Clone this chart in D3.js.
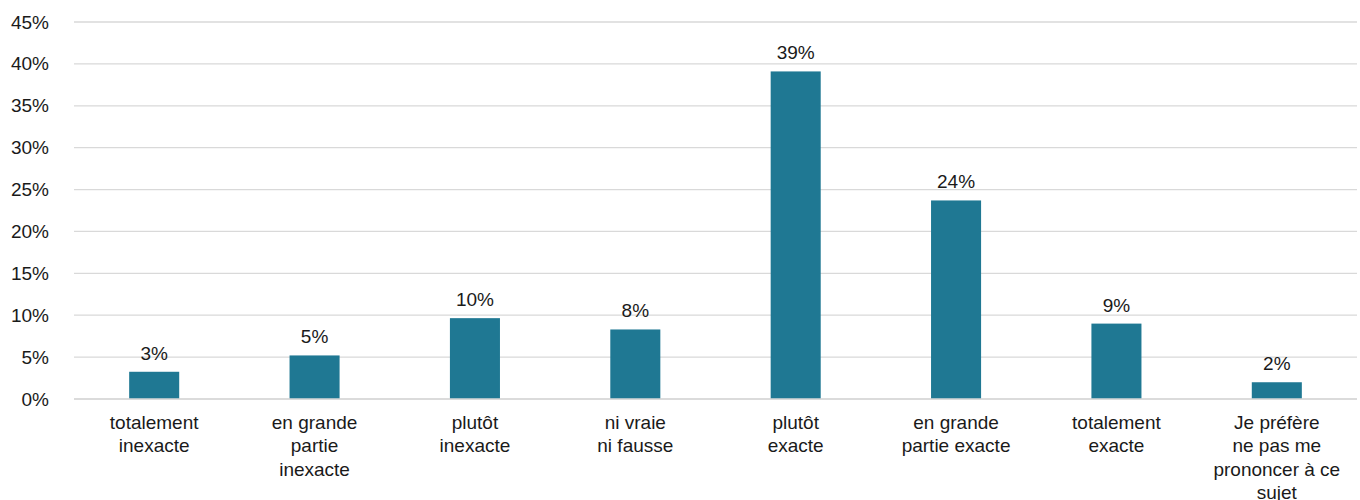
<!DOCTYPE html>
<html><head><meta charset="utf-8">
<script src="https://cdn.jsdelivr.net/npm/d3@7"></script>
<style>body{margin:0;background:#fff}svg{display:block}text{font-family:"Liberation Sans",Arial,sans-serif;fill:#1a1a1a}</style>
</head><body><svg id="c" width="1360" height="500"></svg>
<script>
const categories = [
  ["totalement","inexacte"],
  ["en grande","partie","inexacte"],
  ["plutôt","inexacte"],
  ["ni vraie","ni fausse"],
  ["plutôt","exacte"],
  ["en grande","partie exacte"],
  ["totalement","exacte"],
  ["Je préfère","ne pas me","prononcer à ce","sujet"]
];
const values = [3.25, 5.2, 9.65, 8.3, 39.1, 23.7, 9.0, 2.0];
const valueLabels = ["3%","5%","10%","8%","39%","24%","9%","2%"];
const yTicks = [0,5,10,15,20,25,30,35,40,45];

const FS = 19;
const svg = d3.select("#c");
const m = {left:74, right:1357, top:22, bottom:399};
const x = d3.scaleBand().domain(d3.range(categories.length)).range([m.left, m.right]).paddingInner(0.688).paddingOuter(0.344);
const y = d3.scaleLinear().domain([0,45]).range([m.bottom, m.top]);

const grid = svg.append("g");
grid.selectAll("line").data(yTicks).join("line")
  .attr("x1", m.left).attr("x2", m.right)
  .attr("y1", d=>y(d)).attr("y2", d=>y(d))
  .attr("stroke", "#d9d9d9").attr("stroke-width", 1.3);

const yAxis = svg.append("g").attr("transform", `translate(${m.left},0)`)
  .call(d3.axisLeft(y).tickValues(yTicks).tickFormat(d=>d+"%").tickSize(0).tickPadding(25));
yAxis.select(".domain").remove();
yAxis.selectAll("text").attr("font-size", FS).style("font-family", '"Liberation Sans",Arial,sans-serif').attr("fill","#1a1a1a");

svg.append("g").selectAll("rect").data(values).join("rect")
  .attr("x", (d,i)=>x(i)).attr("width", x.bandwidth())
  .attr("y", d=>y(d)).attr("height", d=>y(0)-y(d))
  .attr("fill", "#1f7893");

svg.append("line").attr("x1", m.left).attr("x2", m.right).attr("y1", y(0)).attr("y2", y(0))
  .attr("stroke", "#d9d9d9").attr("stroke-width", 1.5);

svg.append("g").selectAll("text").data(values).join("text")
  .attr("x", (d,i)=>x(i)+x.bandwidth()/2).attr("y", d=>y(d)-12)
  .attr("text-anchor","middle").attr("font-size",FS)
  .text((d,i)=>valueLabels[i]);

const cl = svg.append("g").selectAll("text").data(categories).join("text")
  .attr("x", (d,i)=>x(i)+x.bandwidth()/2).attr("y", 429)
  .attr("text-anchor","middle").attr("font-size",FS);
cl.each(function(d,i){
  const t = d3.select(this);
  d.forEach((line,j)=>{
    t.append("tspan").attr("x", x(i)+x.bandwidth()/2).attr("y", 429 + j*23.3).text(line);
  });
});
</script></body></html>
